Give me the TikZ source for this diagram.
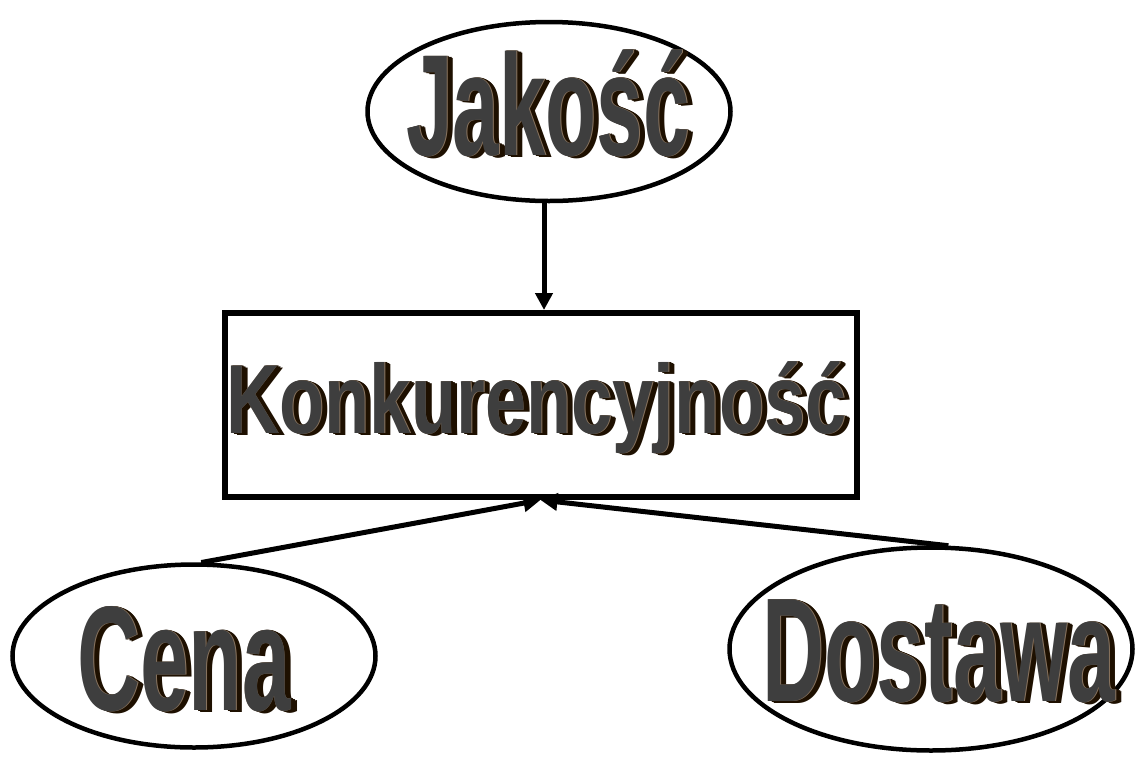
\documentclass[tikz,border=0pt]{standalone}
\usepackage{fontspec}
\setmainfont{Liberation Sans}
\usetikzlibrary{arrows.meta,shapes.geometric}
\definecolor{waface}{HTML}{3E3E3E}
\definecolor{waext}{HTML}{1E1000}
\definecolor{waedge}{HTML}{8A7560}
\tikzset{
  waglyph/.style={inner sep=0pt, outer sep=0pt, anchor=base},
  ell/.style={ellipse, draw=black, line width=4.5pt, inner sep=0pt},
  kbox/.style={rectangle, draw=black, line width=6pt, inner sep=0pt},
  arr/.style={line width=5pt, -{Triangle[length=17pt,width=17pt]}, shorten <=-1pt}
}
% name, coordinate, xscale, font size, text
\newcommand\wordart[5]{%
  \foreach \dd in {6,4.8,3.6,2.4,1.2}{%
    \node[waglyph,text=waext] at ([xshift=\dd pt,yshift={-0.4*\dd pt}]#2)
      {\scalebox{#3}[1]{\fontsize{#4}{#4}\selectfont\bfseries #5}};}%
  \node[waglyph,text=waedge] at ([xshift=0.9pt,yshift=-0.6pt]#2)
      {\scalebox{#3}[1]{\fontsize{#4}{#4}\selectfont\bfseries #5}};%
  \node[waglyph,text=waface] (#1) at (#2)
    {\scalebox{#3}[1]{\fontsize{#4}{#4}\selectfont\bfseries #5}};%
}
\begin{document}
\begin{tikzpicture}[x=1pt,y=-1pt]
\useasboundingbox (0,0) rectangle (1136,756);
\fill[white] (0,0) rectangle (1136,756);

% shapes
\node[ell, minimum width=363pt, minimum height=179pt] (jak) at (549,111.5) {};
\node[kbox, minimum width=632pt, minimum height=184pt] (box) at (540.5,405) {};
\node[ell, minimum width=363pt, minimum height=183pt] (cena) at (194,656) {};
\node[ell, minimum width=403pt, minimum height=203pt] (dos) at (931,649) {};

% text anchors
\coordinate (jbase) at (548,155);
\coordinate (kbase) at (536.5,433);
\coordinate (cbase) at (184,710);
\coordinate (dbase) at (939,701);

\wordart{jt}{jbase}{0.58}{144}{Jakość}
\wordart{kt}{kbase}{0.755}{98}{Konkurencyjność}
\wordart{ct}{cbase}{0.585}{149}{Cena}
\wordart{dt}{dbase}{0.58}{148}{Dostawa}

% connectors
\path (box.north) ++(3.5,0) coordinate (ja);
\draw[arr] (jak.south -| ja) -- (ja);
\draw[arr] (cena.85) -- (box.south);
\draw[arr] (dos.81) -- (box.south);
\end{tikzpicture}
\end{document}
